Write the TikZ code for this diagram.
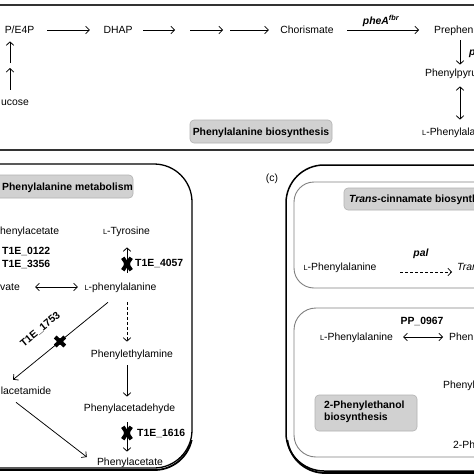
\documentclass[tikz,border=0pt]{standalone}
\usepackage{fontspec}
\setmainfont{Liberation Sans}
\usetikzlibrary{arrows.meta,calc}
\newcommand{\Lsc}{{\fontsize{7.4}{8}\selectfont L}}
\begin{document}
\begin{tikzpicture}[x=1pt,y=-1pt,
  txt/.style={inner sep=0pt, text height=7.4pt, text depth=0pt, font=\fontsize{10.4}{12.5}\selectfont},
  btxt/.style={txt, font=\fontsize{10.4}{12.5}\selectfont\bfseries},
  arr/.style={-{Straight Barb[length=3.6pt,width=7.5pt]}, line width=0.75pt},
  darr/.style={{Straight Barb[length=3.6pt,width=7.5pt]}-{Straight Barb[length=3.6pt,width=7.5pt]}, line width=0.75pt},
  dasharr/.style={arr, dash pattern=on 3pt off 2pt},
  graybox/.style={fill=black!18, draw=black!30, rounded corners=4pt, line width=0.6pt},
  panel/.style={draw=black, line width=1.3pt, rounded corners=38pt},
  subpanel/.style={draw=black!50, line width=0.9pt, rounded corners=20pt},
  xmark/.pic={\draw[line width=4pt] (-4.2,-6.2) -- (4.2,6.2) (-4.2,6.2) -- (4.2,-6.2); \fill (0,0) circle (3.4pt);},
  xmarks/.pic={\draw[line width=4pt] (-4.8,-4.5) -- (4.8,4.5) (-4.8,4.5) -- (4.8,-4.5); \fill (0,0) circle (3.4pt);}
]
\fill[white] (0,0) rectangle (474,474);
\useasboundingbox (0,0) rectangle (474,474);

% ---------- panel outlines ----------
\draw[draw=black!80, line width=1.3pt] (-10,5) rectangle (490,150);
\draw[panel] (-60,164) rectangle (192,468);
\begin{scope}
  \clip (-60,440) rectangle (200,480);
  \draw[line width=1.8pt, rounded corners=38pt] (-59,166) rectangle (192.5,470);
\end{scope}
\draw[panel, line width=1.5pt] (286,165) rectangle (540,471);
\begin{scope}
  \clip (280,440) rectangle (540,480);
  \draw[line width=1.8pt, rounded corners=38pt] (287,167) rectangle (541,473);
\end{scope}
\draw[subpanel] (294,182) rectangle (540,288);
\draw[subpanel, rounded corners=22pt] (294,308) rectangle (540,457);

% ---------- gray title boxes ----------
\node[graybox, btxt, minimum width=142pt, minimum height=23pt] (gbA) at (261,131.5) {Phenylalanine biosynthesis};
\draw[graybox] (-10,175) rectangle (133,198);
\node[btxt, anchor=west] (gbB) at (2,186.5) {Phenylalanine metabolism};
\draw[graybox] (344,188) rectangle (490,210);
\node[btxt, anchor=west] (gbC) at (349,199) {\textit{Trans}-cinnamate biosynth};
\draw[graybox] (315,395) rectangle (417,431);
\node[anchor=north west, inner sep=0pt, align=left, font=\fontsize{10.4}{12.2}\selectfont\bfseries] (gbD) at (324,401) {2-Phenylethanol\\biosynthesis};

% ---------- panel (a): phenylalanine biosynthesis ----------
\node[txt, minimum width=35pt] (pe) at (19.5,30) {P/E4P};
\node[txt, minimum width=30pt] (dhap) at (118,30) {DHAP};
\node[txt, minimum width=54pt] (chor) at (307,30) {Chorismate};
\node[txt, anchor=west] (preph) at (434,30) {Prephen};
\node[txt, anchor=west] (ppyr) at (425,73) {Phenylpyru};
\node[txt, anchor=west] (lpheA) at (422,132) {\Lsc-Phenylala};
\node[txt, anchor=west] (gluc) at (1,102) {ucose};
\coordinate (c1) at (182.5,30);
\coordinate (c2) at (226.5,30);
\coordinate (gmid) at (10,65.5);
\coordinate (colL) at (10,0);
\coordinate (colT) at (460,0);

\draw[arr, shorten <=10pt, shorten >=13pt] (pe.east) -- (dhap.west);
\draw[arr, shorten <=10pt, shorten >=7.5pt] (dhap.east) -- (c1);
\draw[arr, shorten <=7.5pt, shorten >=3.5pt] (c1) -- (c2);
\draw[arr, shorten <=3.5pt, shorten >=11pt] (c2) -- (chor.west);
\draw[arr, shorten <=13pt, shorten >=15pt] (chor.east) -- (preph.west);
\node[inner sep=0pt, font=\fontsize{10.4}{12}\selectfont\bfseries\itshape] (pheA) at (381,21) {pheA\textsuperscript{fbr}};
\draw[arr, shorten <=6.4pt, shorten >=4.4pt] (preph.south -| colT) -- (ppyr.north -| colT);
\node[anchor=west, inner sep=0pt, font=\fontsize{10.4}{12}\selectfont\bfseries\itshape] (pheAb) at (469,54) {p};
\draw[darr, shorten <=9.4pt, shorten >=8.4pt] (ppyr.south -| colT) -- (lpheA.north -| colT);
\draw[arr, shorten <=8.4pt, shorten >=2.5pt] (gluc.north -| colL) -- (gmid);
\draw[arr, shorten <=2.5pt, shorten >=7.4pt] (gmid) -- (pe.south -| colL);

% ---------- panel (b): phenylalanine metabolism ----------
\node[txt, anchor=west] (pacB) at (0,231) {henylacetate};
\node[txt, minimum width=47pt] (tyr) at (126.5,231) {\Lsc-Tyrosine};
\node[btxt, anchor=west] (t0122) at (2,251) {T1E\_0122};
\node[btxt, anchor=west] (t3356) at (2,264) {T1E\_3356};
\node[txt, minimum width=20pt] (pyrB) at (10,287) {vate};
\node[txt, minimum width=75pt] (phe) at (120.5,287) {\Lsc-phenylalanine};
\node[txt, minimum width=80pt] (pea) at (132,354) {Phenylethylamine};
\node[txt, minimum width=93pt] (pad) at (129.5,408) {Phenylacetadehyde};
\node[txt, minimum width=66pt] (pac) at (130,462) {Phenylacetate};
\node[txt, minimum width=52pt] (pam) at (26,391) {lacetamide};
\coordinate (colB) at (127,0);

\draw[arr, shorten <=10.4pt, shorten >=12.4pt] (phe.north -| colB) -- (tyr.south -| colB);
\pic at (127,264) {xmark};
\node[btxt, anchor=west] (t4057) at (135,263) {T1E\_4057};
\draw[darr, shorten <=15pt, shorten >=5pt] (pyrB.east) -- (phe.west);
\draw[dasharr, shorten <=11.4pt, shorten >=8.4pt] (phe.south -| colB) -- (pea.north -| colB);
\draw[arr, shorten <=7.4pt, shorten >=7.4pt] (pea.south -| colB) -- (pad.north -| colB);
\draw[arr, shorten <=10.4pt, shorten >=6.4pt] (pad.south -| colB) -- (pac.north -| colB);
\pic at (127,433) {xmark};
\node[btxt, anchor=west] (t1616) at (137,433) {T1E\_1616};
\draw[arr] ([xshift=-12.5pt,yshift=-11.4pt]phe.south) -- ([xshift=-13pt,yshift=7.4pt]pam.north);
\pic at (60,341.5) {xmarks};
\node[btxt, rotate=39.4] (t1753) at (40,329) {T1E\_1753};
\draw[arr] ([xshift=-10pt,yshift=-7.4pt]pam.south) -- ([xshift=-10pt,yshift=5pt]pac.west);

% ---------- panel (c) ----------
\node[txt, font=\fontsize{10.4}{12.5}\selectfont] (lblc) at (272,178) {(c)};
\node[txt, minimum width=74pt] (cphe) at (340,267) {\Lsc-Phenylalanine};
\node[txt, anchor=west, font=\fontsize{10.4}{12.5}\selectfont\itshape] (tran) at (457,267) {Tran};
\draw[dasharr] ([xshift=23pt,yshift=-5pt]cphe.east) -- ([xshift=-5pt,yshift=-5pt]tran.west);
\node[inner sep=0pt, font=\fontsize{10.4}{12}\selectfont\bfseries\itshape] (pal) at (421,254) {pal};
\node[btxt] (pp) at (422,321) {PP\_0967};
\node[txt, minimum width=73pt] (cphe2) at (356.5,337) {\Lsc-Phenylalanine};
\node[txt, anchor=west] (phen) at (449,337) {Phen};
\draw[darr, shorten <=10pt, shorten >=6pt] (cphe2.east) -- (phen.west);
\node[txt, anchor=west] (phenyl) at (443,385) {Phenyl};
\node[txt, anchor=west] (peth) at (453,445) {2-Ph};
\end{tikzpicture}
\end{document}
